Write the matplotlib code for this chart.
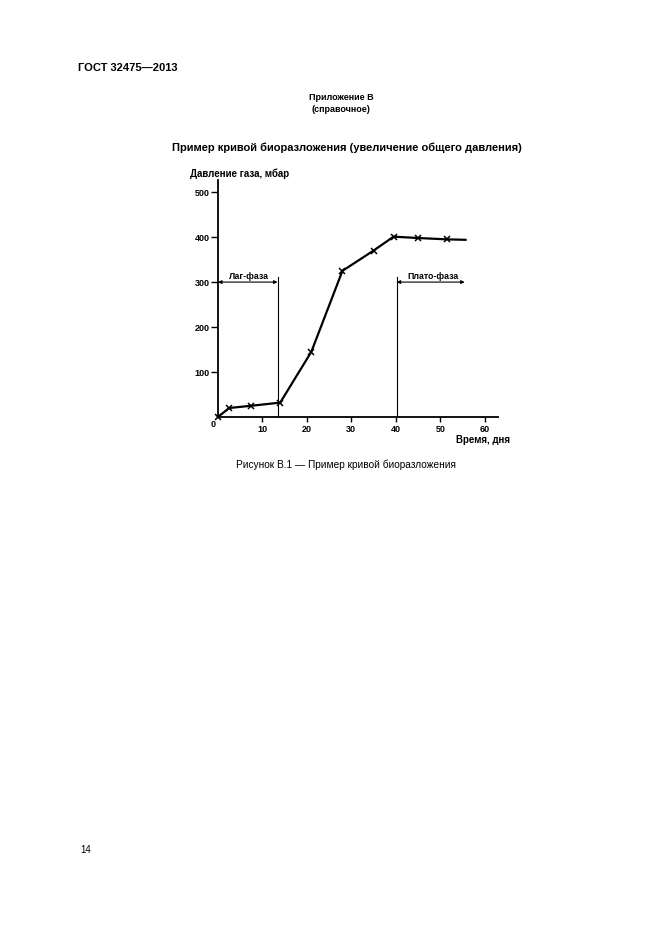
import numpy as np
import matplotlib.pyplot as plt
from matplotlib.ticker import FixedLocator

plt.rcParams['font.family'] = ['Liberation Sans', 'DejaVu Sans']

# curve of gas pressure (mbar) against time (days)
days = [0, 2.5, 7.5, 14, 21, 28, 35, 39.5, 45, 51.5, 55.7]
pressure = [0, 20, 25, 32, 145, 325, 370, 401, 398, 395, 394]
marked = [True] * 10 + [False]

lag_end = 13.4
plateau_start = 40.2
plateau_end = 55.5
phase_level = 300
phase_top = 312

x_ticks = [10, 20, 30, 40, 50, 60]
y_ticks = [100, 200, 300, 400, 500]

W, H = 661, 935
fig = plt.figure(figsize=(W / 100, H / 100), dpi=100)

# page text
fig.text(78 / W, 1 - 68 / H, 'ГОСТ 32475—2013', fontsize=8, fontweight='bold', va='center')
fig.text(341 / W, 1 - 97 / H, 'Приложение В', fontsize=6.5, fontweight='bold', ha='center', va='center')
fig.text(341 / W, 1 - 109 / H, '(справочное)', fontsize=6.5, fontweight='bold', ha='center', va='center')
fig.text(347 / W, 1 - 148 / H, 'Пример кривой биоразложения (увеличение общего давления)',
         fontsize=8, fontweight='bold', ha='center', va='center')
fig.text(346 / W, 1 - 465 / H, 'Рисунок В.1 — Пример кривой биоразложения',
         fontsize=7.3, ha='center', va='center')
fig.text(80 / W, 1 - 850 / H, '14', fontsize=7, va='center')

x0, y0 = 218, 417
ax = fig.add_axes([x0 / W, 1 - y0 / H, 280 / W, 237 / H])
ax.set_xlim(0, 63)
ax.set_ylim(0, 527)
for s in ['top', 'right']:
    ax.spines[s].set_visible(False)
for s in ['left', 'bottom']:
    ax.spines[s].set_linewidth(1.3)

ax.xaxis.set_major_locator(FixedLocator(x_ticks))
ax.yaxis.set_major_locator(FixedLocator(y_ticks))
ax.tick_params(width=1, labelsize=6.5)
ax.tick_params(axis='x', length=3.5, pad=2.5)
ax.tick_params(axis='y', length=5, pad=0.8)
for lab in ax.get_xticklabels() + ax.get_yticklabels():
    lab.set_fontweight('bold')

ax.plot(days, pressure, color='black', lw=1.6, clip_on=False)
mx = [d for d, m in zip(days, marked) if m]
my = [p for p, m in zip(pressure, marked) if m]
ax.plot(mx, my, ls='none', marker='x', ms=4, mew=1.1, color='black', clip_on=False)

ax.plot([lag_end, lag_end], [0, phase_top], color='black', lw=0.8)
ax.plot([plateau_start, plateau_start], [0, phase_top], color='black', lw=0.8)
arrow = dict(arrowstyle='<|-|>', color='black', lw=0.8, mutation_scale=5, shrinkA=0, shrinkB=0)
ax.annotate('', xy=(0, phase_level), xytext=(lag_end, phase_level), arrowprops=arrow)
ax.annotate('', xy=(plateau_start, phase_level), xytext=(plateau_end, phase_level), arrowprops=arrow)
ax.text(lag_end / 2 + 0.3, phase_level + 3, 'Лаг-фаза', fontsize=6.3, fontweight='bold',
        ha='center', va='bottom')
ax.text((plateau_start + plateau_end) / 2 + 0.5, phase_level + 3, 'Плато-фаза', fontsize=6.3,
        fontweight='bold', ha='center', va='bottom')

ax.text(-0.6, -6, '0', fontsize=6.5, fontweight='bold', ha='right', va='top')
fig.text(190 / W, 1 - 174 / H, 'Давление газа, мбар', fontsize=7, fontweight='bold', va='center')
fig.text(510 / W, 1 - 440 / H, 'Время, дня', fontsize=7, fontweight='bold', ha='right', va='center')

fig.savefig('out.png', dpi=100)
